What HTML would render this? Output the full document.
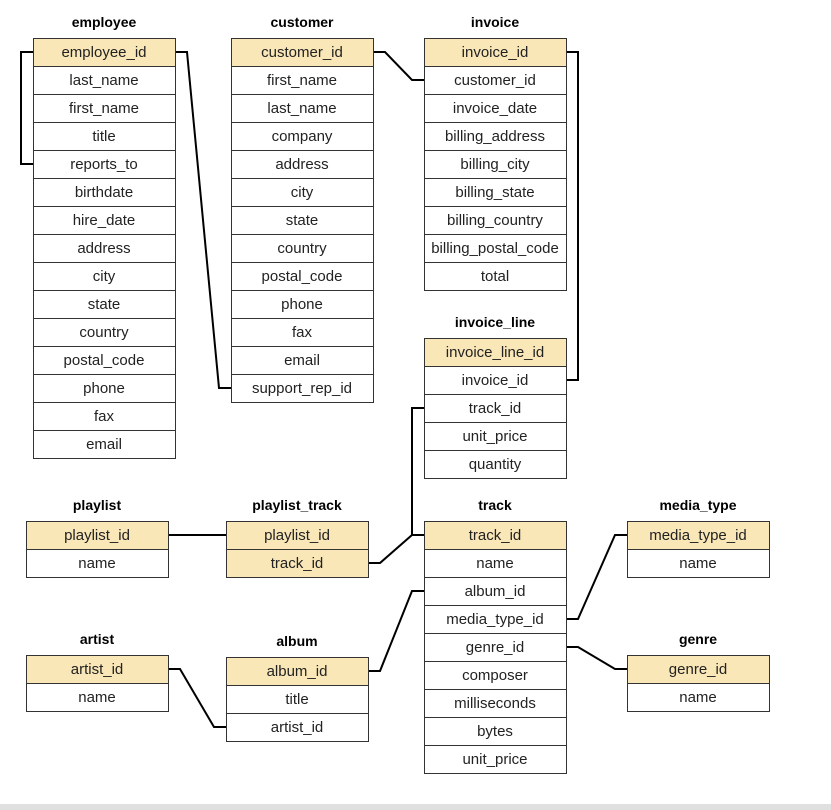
<!DOCTYPE html>
<html><head><style>
body{margin:0;width:831px;height:810px;background:#fff;overflow:hidden;font-family:"Liberation Sans",sans-serif}
</style></head><body>
<svg width="831" height="810" xmlns="http://www.w3.org/2000/svg" style="position:absolute;left:0;top:0">
<rect x="0" y="804" width="831" height="6" fill="#e0e0e0"/>
<g fill="none" stroke="#000" stroke-width="2">
<polyline points="33,52 21,52 21,164 33,164"/>
<polyline points="175,52 187,52 219,388 231,388"/>
<polyline points="373,52 385,52 412,80 424,80"/>
<polyline points="566,52 578,52 578,380 566,380"/>
<polyline points="424,408 412,408 412,535 424,535"/>
<polyline points="368,563 380,563 412,535"/>
<polyline points="168,535 226,535"/>
<polyline points="368,671 380,671 412,591 424,591"/>
<polyline points="168,669 180,669 214,727 226,727"/>
<polyline points="566,619 578,619 615,535 627,535"/>
<polyline points="566,647 578,647 615,669 627,669"/>
</g>
<g id="t" font-size="15" text-anchor="middle" fill="#222"></g>
</svg>
<script>
const T=[
["employee",33,38,["employee_id","last_name","first_name","title","reports_to","birthdate","hire_date","address","city","state","country","postal_code","phone","fax","email"],1],
["customer",231,38,["customer_id","first_name","last_name","company","address","city","state","country","postal_code","phone","fax","email","support_rep_id"],1],
["invoice",424,38,["invoice_id","customer_id","invoice_date","billing_address","billing_city","billing_state","billing_country","billing_postal_code","total"],1],
["invoice_line",424,338,["invoice_line_id","invoice_id","track_id","unit_price","quantity"],1],
["playlist",26,521,["playlist_id","name"],1],
["playlist_track",226,521,["playlist_id","track_id"],2],
["track",424,521,["track_id","name","album_id","media_type_id","genre_id","composer","milliseconds","bytes","unit_price"],1],
["media_type",627,521,["media_type_id","name"],1],
["artist",26,655,["artist_id","name"],1],
["album",226,657,["album_id","title","artist_id"],1],
["genre",627,655,["genre_id","name"],1]];
let s="";
for(const [n,x,y,r,h] of T){
 s+=`<text x="${x+71}" y="${y-11}" font-weight="bold" font-size="14" fill="#000">${n}</text>`;
 r.forEach((f,i)=>{const yy=y+i*28;
  s+=`<rect x="${x+0.5}" y="${yy+0.5}" width="142" height="28" fill="${i<h?'#f9e7b7':'#fff'}" stroke="#333" stroke-width="1"/>`;
  s+=`<text x="${x+71}" y="${yy+19}">${f}</text>`;});
}
document.getElementById('t').innerHTML=s;
</script>
</body></html>
